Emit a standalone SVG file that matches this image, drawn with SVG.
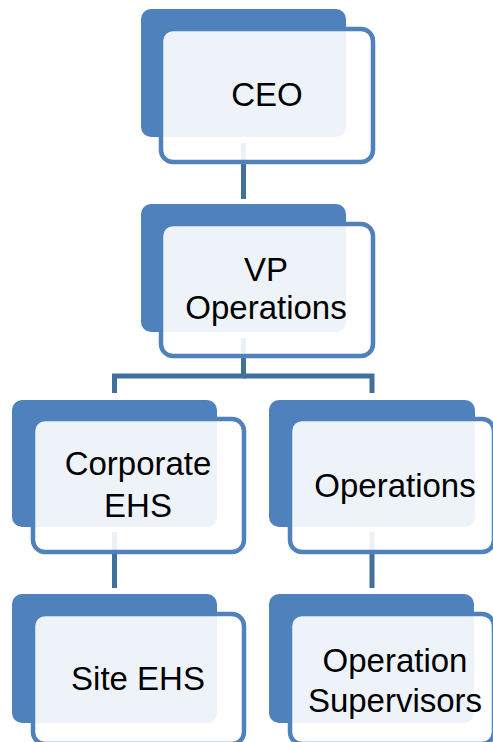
<svg xmlns="http://www.w3.org/2000/svg" width="493" height="742" viewBox="0 0 493 742">
<style>
.back{fill:#4F81BD;}
.front{fill:#FFFFFF;fill-opacity:0.9;stroke:#4F81BD;stroke-width:4.5;}
.lbl{font-family:"Liberation Sans",Arial,sans-serif;font-size:33px;fill:#000;text-anchor:middle;}
.conn{fill:none;stroke:#41709F;stroke-width:5;}
</style>
<rect width="493" height="742" fill="#FFFFFF"/>
<g id="connectors">
<path class="conn" d="M243.5,143 V199"/>
<path class="conn" d="M243.5,338 V376 H114.5 V393"/>
<path class="conn" d="M243.5,376 H372 V393"/>
<path class="conn" d="M114.5,532 V588"/>
<path class="conn" d="M372,532 V588"/>
</g>
<g id="ceo">
<rect class="back" x="141" y="9" width="205" height="128" rx="10"/>
<rect class="front" x="161" y="29" width="212" height="133" rx="12"/>
<text class="lbl" x="267" y="106">CEO</text>
</g>
<g id="vp-operations">
<rect class="back" x="141" y="204" width="205" height="128" rx="10"/>
<rect class="front" x="161" y="224" width="212" height="132" rx="12"/>
<text class="lbl" x="266" y="281">VP</text>
<text class="lbl" x="266" y="319">Operations</text>
</g>
<g id="corporate-ehs">
<rect class="back" x="12" y="400" width="205" height="127" rx="10"/>
<rect class="front" x="33" y="419" width="211" height="133" rx="12"/>
<text class="lbl" x="138" y="475">Corporate</text>
<text class="lbl" x="138" y="517">EHS</text>
</g>
<g id="operations">
<rect class="back" x="269" y="400" width="206" height="127" rx="10"/>
<rect class="front" x="290" y="419" width="204" height="133" rx="12"/>
<text class="lbl" x="395" y="497">Operations</text>
</g>
<g id="site-ehs">
<rect class="back" x="12" y="594" width="205" height="129" rx="10"/>
<rect class="front" x="33" y="614" width="211" height="130" rx="12"/>
<text class="lbl" x="138" y="690">Site EHS</text>
</g>
<g id="operation-supervisors">
<rect class="back" x="269" y="594" width="205" height="129" rx="10"/>
<rect class="front" x="290" y="614" width="204" height="130" rx="12"/>
<text class="lbl" x="395" y="672">Operation</text>
<text class="lbl" x="395" y="712">Supervisors</text>
</g>
</svg>
